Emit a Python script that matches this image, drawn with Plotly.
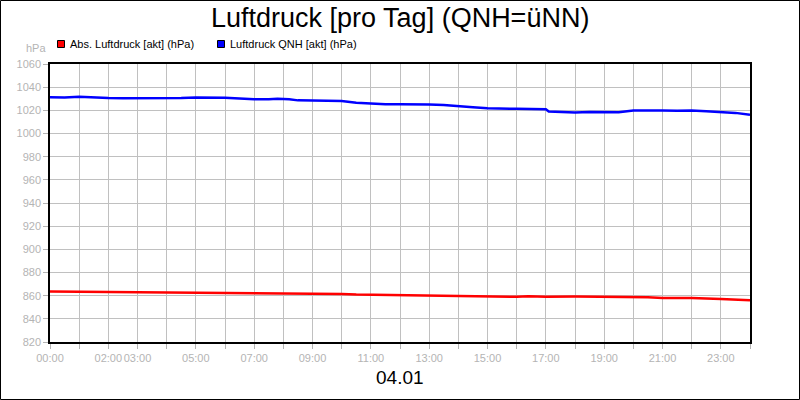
import plotly.graph_objects as go

# Tageskurve 04.01 - Stunden seit Mitternacht
qnh_hours = [0.0, 0.5, 1.0, 1.5, 2.0, 2.5, 3.0, 3.5, 4.0, 4.5, 5.0, 5.5, 6.0, 6.5,
             7.0, 7.5, 7.8, 8.2, 8.5, 9.0, 9.5, 10.0, 10.5, 11.0, 11.5, 12.0,
             12.5, 13.0, 13.5, 14.0, 14.5, 15.0, 15.5, 16.0, 16.5, 17.0, 17.1,
             17.5, 18.0, 18.5, 19.0, 19.5, 20.0, 20.5, 21.0, 21.5, 22.0, 22.5,
             23.0, 23.5, 24.0]
qnh_values = [1031.2, 1031.0, 1031.7, 1031.0, 1030.6, 1030.5, 1030.4, 1030.4,
              1030.3, 1030.6, 1031.0, 1031.2, 1030.8, 1030.2, 1029.5, 1029.6,
              1030.0, 1029.6, 1028.6, 1028.4, 1028.3, 1028.0, 1026.6, 1025.8,
              1025.2, 1025.2, 1025.3, 1025.0, 1024.6, 1023.3, 1022.6, 1021.7,
              1021.2, 1021.3, 1021.1, 1021.0, 1019.0, 1018.8, 1018.2, 1018.6,
              1018.6, 1018.3, 1019.8, 1020.0, 1019.8, 1019.6, 1019.8, 1019.3,
              1018.8, 1017.8, 1016.2]

abs_hours = [0.0, 1.0, 2.0, 3.0, 4.0, 5.0, 6.0, 6.5, 7.0, 8.0, 9.0, 10.0, 10.5,
             11.0, 12.0, 13.0, 14.0, 14.5, 15.0, 16.0, 16.4, 17.0, 18.0, 19.0,
             20.0, 20.5, 21.0, 22.0, 23.0, 24.0]
abs_values = [863.5, 863.3, 863.0, 863.0, 862.9, 862.8, 862.6, 862.3, 862.0,
              861.9, 861.7, 861.5, 861.0, 860.8, 860.6, 860.0, 859.7, 859.0,
              858.9, 859.0, 859.5, 859.1, 859.2, 859.1, 859.2, 858.6, 858.0,
              858.0, 857.2, 856.0]

tick_hours = list(range(0, 25))
tick_labels = ["00:00", "", "02:00", "03:00", "", "05:00", "", "07:00", "",
               "09:00", "", "11:00", "", "13:00", "", "15:00", "", "17:00", "",
               "19:00", "", "21:00", "", "23:00", ""]

series_names = ["Abs. Luftdruck [akt] (hPa)", "Luftdruck QNH [akt] (hPa)"]
series_colors = ["#ff0000", "#0000ff"]

# plot area in pixels: x 50..750, y 64..342
L, R, T, B = 50, 750, 64, 342


def px(x):
    return (x - L) / (R - L)


def py(y):
    return (B - y) / (B - T)


fig = go.Figure()

fig.add_trace(go.Scatter(x=abs_hours, y=abs_values, mode="lines",
                         line=dict(color=series_colors[0], width=2.5),
                         showlegend=False))
fig.add_trace(go.Scatter(x=qnh_hours, y=qnh_values, mode="lines",
                         line=dict(color=series_colors[1], width=2.5),
                         showlegend=False))

grey = "#b4b4b4"
font = "Liberation Sans, Arial, sans-serif"

shapes = [
    # outer frame
    dict(type="rect", xref="paper", yref="paper",
         x0=px(0.5), x1=px(799.5), y0=py(399.5), y1=py(0.5),
         line=dict(color="black", width=1)),
]
annotations = [
    dict(text="Luftdruck [pro Tag] (QNH=üNN)", xref="paper", yref="paper",
         x=px(400), y=py(18), yanchor="middle", showarrow=False,
         font=dict(size=27, color="black", family=font)),
    dict(text="04.01", xref="paper", yref="paper", x=px(400), y=py(377),
         yanchor="middle", showarrow=False,
         font=dict(size=19, color="black", family=font)),
    dict(text="hPa", xref="paper", yref="paper", x=px(48), y=py(48),
         xanchor="right", yanchor="middle", showarrow=False,
         font=dict(size=11, color=grey, family=font)),
]

# legend: coloured squares with labels
legend_x = [57.5, 217.5]
for name, color, lx in zip(series_names, series_colors, legend_x):
    shapes.append(dict(type="rect", xref="paper", yref="paper",
                       x0=px(lx), x1=px(lx + 7), y0=py(47.5), y1=py(40.5),
                       fillcolor=color, line=dict(color="black", width=1)))
    annotations.append(dict(text=name, xref="paper", yref="paper",
                            x=px(lx + 10), y=py(44), xanchor="left",
                            yanchor="middle", showarrow=False,
                            font=dict(size=11, color="black", family=font)))

fig.update_layout(
    width=800, height=400,
    margin=dict(l=L, r=800 - R, t=T, b=400 - B),
    paper_bgcolor="white", plot_bgcolor="white",
    font=dict(family=font, size=11, color=grey),
    shapes=shapes, annotations=annotations,
    showlegend=False,
)
fig.update_xaxes(
    range=[0, 24], tickvals=tick_hours, ticktext=tick_labels, tickangle=0,
    showgrid=True, gridcolor="#c0c0c0", gridwidth=1,
    showline=True, linecolor="black", linewidth=1.5, mirror=True,
    ticks="outside", ticklen=5, tickcolor=grey,
    tickfont=dict(size=11, color=grey), zeroline=False,
)
fig.update_yaxes(
    range=[820, 1060], dtick=20, tick0=820,
    showgrid=True, gridcolor="#c0c0c0", gridwidth=1,
    showline=True, linecolor="black", linewidth=1.5, mirror=True,
    ticks="outside", ticklen=5, tickcolor=grey,
    tickfont=dict(size=11, color=grey), zeroline=False,
)

fig.write_html("out.html", config={"displayModeBar": False},
               post_script="document.body.style.margin = '0';")
